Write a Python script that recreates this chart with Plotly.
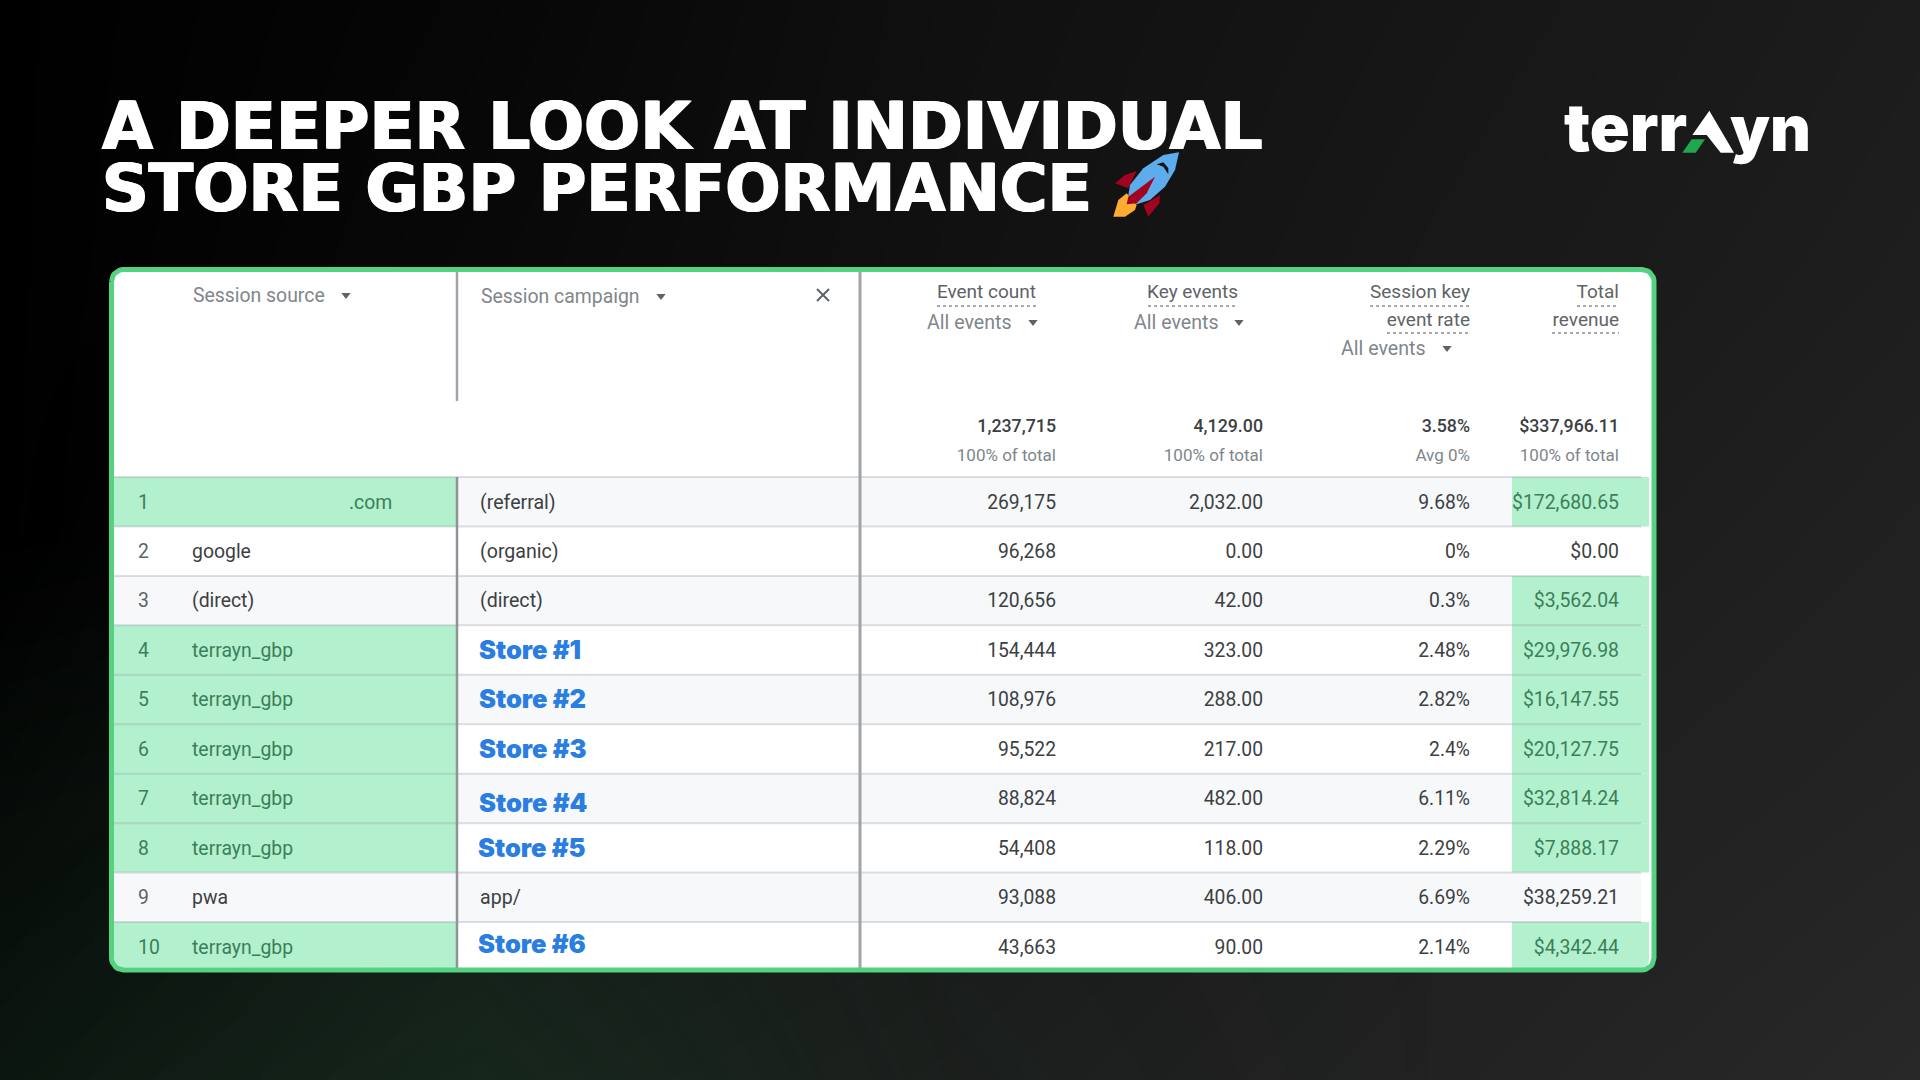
import numpy as np
import plotly.graph_objects as go

title_lines = ["A DEEPER LOOK AT INDIVIDUAL", "STORE GBP PERFORMANCE"]

row_numbers = ["1", "2", "3", "4", "5", "6", "7", "8", "9", "10"]
sources = [".com", "google", "(direct)", "terrayn_gbp", "terrayn_gbp", "terrayn_gbp",
           "terrayn_gbp", "terrayn_gbp", "pwa", "terrayn_gbp"]
campaigns = ["(referral)", "(organic)", "(direct)", "Store #1", "Store #2", "Store #3",
             "Store #4", "Store #5", "app/", "Store #6"]
event_count = ["269,175", "96,268", "120,656", "154,444", "108,976", "95,522",
               "88,824", "54,408", "93,088", "43,663"]
key_events = ["2,032.00", "0.00", "42.00", "323.00", "288.00", "217.00",
              "482.00", "118.00", "406.00", "90.00"]
key_rate = ["9.68%", "0%", "0.3%", "2.48%", "2.82%", "2.4%", "6.11%", "2.29%", "6.69%", "2.14%"]
revenue = ["$172,680.65", "$0.00", "$3,562.04", "$29,976.98", "$16,147.55", "$20,127.75",
           "$32,814.24", "$7,888.17", "$38,259.21", "$4,342.44"]
totals = ["1,237,715", "4,129.00", "3.58%", "$337,966.11"]
totals_sub = ["100% of total", "100% of total", "Avg 0%", "100% of total"]

source_green = [1, 0, 0, 1, 1, 1, 1, 1, 0, 1]
revenue_green = [1, 0, 1, 1, 1, 1, 1, 1, 0, 1]

# background brightness, left to right, top to bottom
bg_x = [0, 480, 960, 1440, 1920]
bg_y = [0, 270, 540, 810, 1080]
bg_gray = [[0, 6, 16, 22, 28],
           [0, 8, 17, 24, 30],
           [0, 12, 20, 27, 33],
           [4, 18, 24, 31, 36],
           [10, 24, 28, 34, 40]]
bg_green = [[0, 0, 0, 0, 0],
            [0, 0, 0, 0, 0],
            [0, .1, 0, 0, 0],
            [.3, .5, .1, 0, 0],
            [.5, .8, .2, 0, 0]]

GREEN = "#b3f0cd"
BORDER = "#55d182"
ROW_TOP, ROW_H = 477, 49.45
CARD = (111.5, 269.5, 1654, 970)
col_right = [1056, 1263, 1470, 1619]


def row_y(i):
    return 503.7 + ROW_H * i


def rounded(x0, y0, x1, y1, tl=0, tr=0, br=0, bl=0):
    # outline of a box with per-corner radius
    xs, ys = [], []
    for cx, cy, r, a0 in [(x0 + tl, y0 + tl, tl, 180), (x1 - tr, y0 + tr, tr, 270),
                          (x1 - br, y1 - br, br, 0), (x0 + bl, y1 - bl, bl, 90)]:
        t = np.radians(np.linspace(a0, a0 + 90, 10))
        xs += list(cx + r * np.cos(t))
        ys += list(cy + r * np.sin(t))
    return xs + xs[:1], ys + ys[:1]


def fill(xs, ys, color):
    fig.add_trace(go.Scatter(x=xs, y=ys, mode="lines", fill="toself", fillcolor=color,
                             line=dict(width=0, color=color), hoverinfo="skip"))


def line(xs, ys, color, width, dash="solid"):
    fig.add_trace(go.Scatter(x=xs, y=ys, mode="lines", hoverinfo="skip",
                             line=dict(color=color, width=width, dash=dash)))


def text(xs, ys, labels, pos, size, color, family="Roboto", weight=400, shadow=None):
    fig.add_trace(go.Scatter(x=xs, y=ys, text=labels, mode="text", textposition=pos, hoverinfo="skip",
                             textfont=dict(family=family, size=size, color=color, weight=weight,
                                           shadow=shadow)))


fig = go.Figure()

fig.add_trace(go.Heatmap(x=bg_x, y=bg_y, z=bg_gray, zmin=0, zmax=42, zsmooth="best", showscale=False,
                         colorscale=[[0, "#000000"], [1, "#2a2a2a"]], hoverinfo="skip"))
fig.add_trace(go.Heatmap(x=bg_x, y=bg_y, z=bg_green, zmin=0, zmax=1, zsmooth="best", showscale=False,
                         colorscale=[[0, "rgba(20,70,40,0)"], [1, "rgba(20,70,40,0.4)"]], hoverinfo="skip"))

# title, the shadow thickens the strokes towards the black weight of the original
text([102, 102], [132, 195], title_lines, "middle right", [66, 65], "#ffffff", "DejaVu Sans", 700,
     "1px 0 0 #fff, -1px 0 0 #fff")

# rocket
rx = lambda pts: [1100 + p[0] / 3 for p in pts]
ry = lambda pts: [145 + p[1] / 3 for p in pts]
for pts, color in [
    ([(45, 115), (75, 90), (110, 78), (85, 130)], "#a0041e"),
    ([(130, 180), (180, 150), (178, 175), (145, 215)], "#a0041e"),
    ([(80, 145), (55, 165), (40, 215), (75, 215), (105, 195), (110, 180)], "#ffac33"),
    ([(237, 22), (190, 30), (130, 70), (90, 120), (85, 150), (110, 178), (150, 165),
      (195, 125), (225, 75)], "#5dadec"),
    ([(165, 95), (125, 125), (85, 155), (80, 178), (110, 175), (140, 145)], "#a0041e"),
    ([(170, 58), (190, 52), (205, 70), (205, 88), (190, 65)], "#141414"),
]:
    fill(rx(pts + pts[:1]), ry(pts + pts[:1]), color)

# logo
text([1687], [134], ["terr"], "middle left", 66, "#ffffff", "Inter", 900)
text([1730], [135], ["yn"], "middle right", 63, "#ffffff", "Inter", 900)
lx = lambda pts: [1550 + p[0] / 3 for p in pts]
ly = lambda pts: [90 + p[1] / 3 for p in pts]
logo_a = [(478, 62), (552, 188), (512, 188), (470, 135), (427, 135), (478, 62)]
logo_leaf = [(425, 148), (465, 148), (437, 188), (397, 188), (425, 148)]
fill(lx(logo_a), ly(logo_a), "#ffffff")
fill(lx(logo_leaf), ly(logo_leaf), "#1fa84f")

# card
xs, ys = rounded(*CARD, 12, 12, 12, 12)
fill(xs, ys, "#ffffff")

# row bands and highlighted cells
for i in range(10):
    y0 = ROW_TOP + ROW_H * i
    y1 = min(y0 + ROW_H, 968)
    if i % 2 == 0:
        xs, ys = rounded(114, y0, 1641, y1)
        fill(xs, ys, "#f6f8fa")
    if source_green[i]:
        xs, ys = rounded(114, y0, 456, y1, bl=8 if i == 9 else 0)
        fill(xs, ys, GREEN)
    if revenue_green[i]:
        xs, ys = rounded(1512, y0, 1649, y1, br=8 if i == 9 else 0)
        fill(xs, ys, GREEN)

for i in range(10):
    y = ROW_TOP + ROW_H * i
    line([114, 1641], [y, y], "rgba(90,100,115,0.2)", 2)

# column dividers
line([457, 457], [271, 401], "#a0a4a8", 2.5)
line([457, 457], [ROW_TOP, 968], "#8f9499", 2.5)
line([860, 860], [271, 968], "#a0a4a8", 3)

# card border goes over the cells
xs, ys = rounded(*CARD, 12, 12, 12, 12)
line(xs, ys, BORDER, 5)

# column headers
text([193], [297], ["Session source"], "middle right", 19.4, "#80868b")
text([481], [298.5], ["Session campaign"], "middle right", 19.4, "#80868b")
text([1036, 1238, 1470, 1470, 1619, 1619], [293.5, 293.5, 293.5, 321, 293.5, 321],
     ["Event count", "Key events", "Session key", "event rate", "Total", "revenue"],
     "middle left", 19, "#5f6368")
text([927, 1134, 1341], [324, 324, 350], ["All events"] * 3, "middle right", 19.6, "#80868b")

for x0, x1, y in [(937, 1036, 306), (1148, 1238, 306), (1370, 1470, 306), (1387, 1470, 333),
                  (1577, 1619, 306), (1552, 1619, 333)]:
    line([x0, x1], [y, y], "#8a8f94", 1.5, "dot")

fig.add_trace(go.Scatter(x=[346, 661, 1033, 1239, 1447], y=[295, 296, 322, 322, 348], mode="markers",
                         hoverinfo="skip", marker=dict(symbol="triangle-down", size=8, color="#5f6368")))
fig.add_trace(go.Scatter(x=[823], y=[295], mode="markers", hoverinfo="skip",
                         marker=dict(symbol="x-thin", size=12, line=dict(color="#5f6368", width=2))))

# totals
text(col_right, [428] * 4, totals, "middle left", 17.8, "#3c4043", "Roboto", 500)
text(col_right, [456.5] * 4, totals_sub, "middle left", 17, "#80868b")

# table body
ys = [row_y(i) for i in range(10)]
dark, on_green, muted = "#3c4043", "#3b7f5a", "#5f6368"
text([138] * 10, ys, row_numbers, "middle right", 19.4,
     [on_green if g else muted for g in source_green])
text([349 if i == 0 else 192 for i in range(10)], ys, sources, "middle right", 19.4,
     [on_green if g else dark for g in source_green])

is_store = [c.startswith("Store") for c in campaigns]
store_dy = [0, 0, 0, 0.2, 0.5, 0.2, 5.5, 0.7, 0, -2]
store_x = [479, 479, 479, 479, 479, 479, 479, 478, 478, 478]
text([480 for i in range(10) if not is_store[i]], [ys[i] for i in range(10) if not is_store[i]],
     [c for c in campaigns if not c.startswith("Store")], "middle right", 19.6, dark)
text([store_x[i] for i in range(10) if is_store[i]], [ys[i] + store_dy[i] for i in range(10) if is_store[i]],
     [c for c in campaigns if c.startswith("Store")], "middle right", 25.5, "#2a7de1", "Inter", 900)

for col, values in zip(col_right[:3], [event_count, key_events, key_rate]):
    text([col] * 10, ys, values, "middle left", 19.3, dark)
text([col_right[3]] * 10, ys, revenue, "middle left", 19.4,
     [on_green if g else dark for g in revenue_green])

fig.update_layout(
    width=1920, height=1080,
    margin=dict(l=0, r=0, t=0, b=0),
    paper_bgcolor="#000000",
    plot_bgcolor="#000000",
    showlegend=False,
    xaxis=dict(range=[0, 1920], visible=False, fixedrange=True),
    yaxis=dict(range=[1080, 0], visible=False, fixedrange=True),
)

fig.write_html("out.html", config=dict(displayModeBar=False),
               post_script="document.body.style.margin='0';document.body.style.overflow='hidden';")
